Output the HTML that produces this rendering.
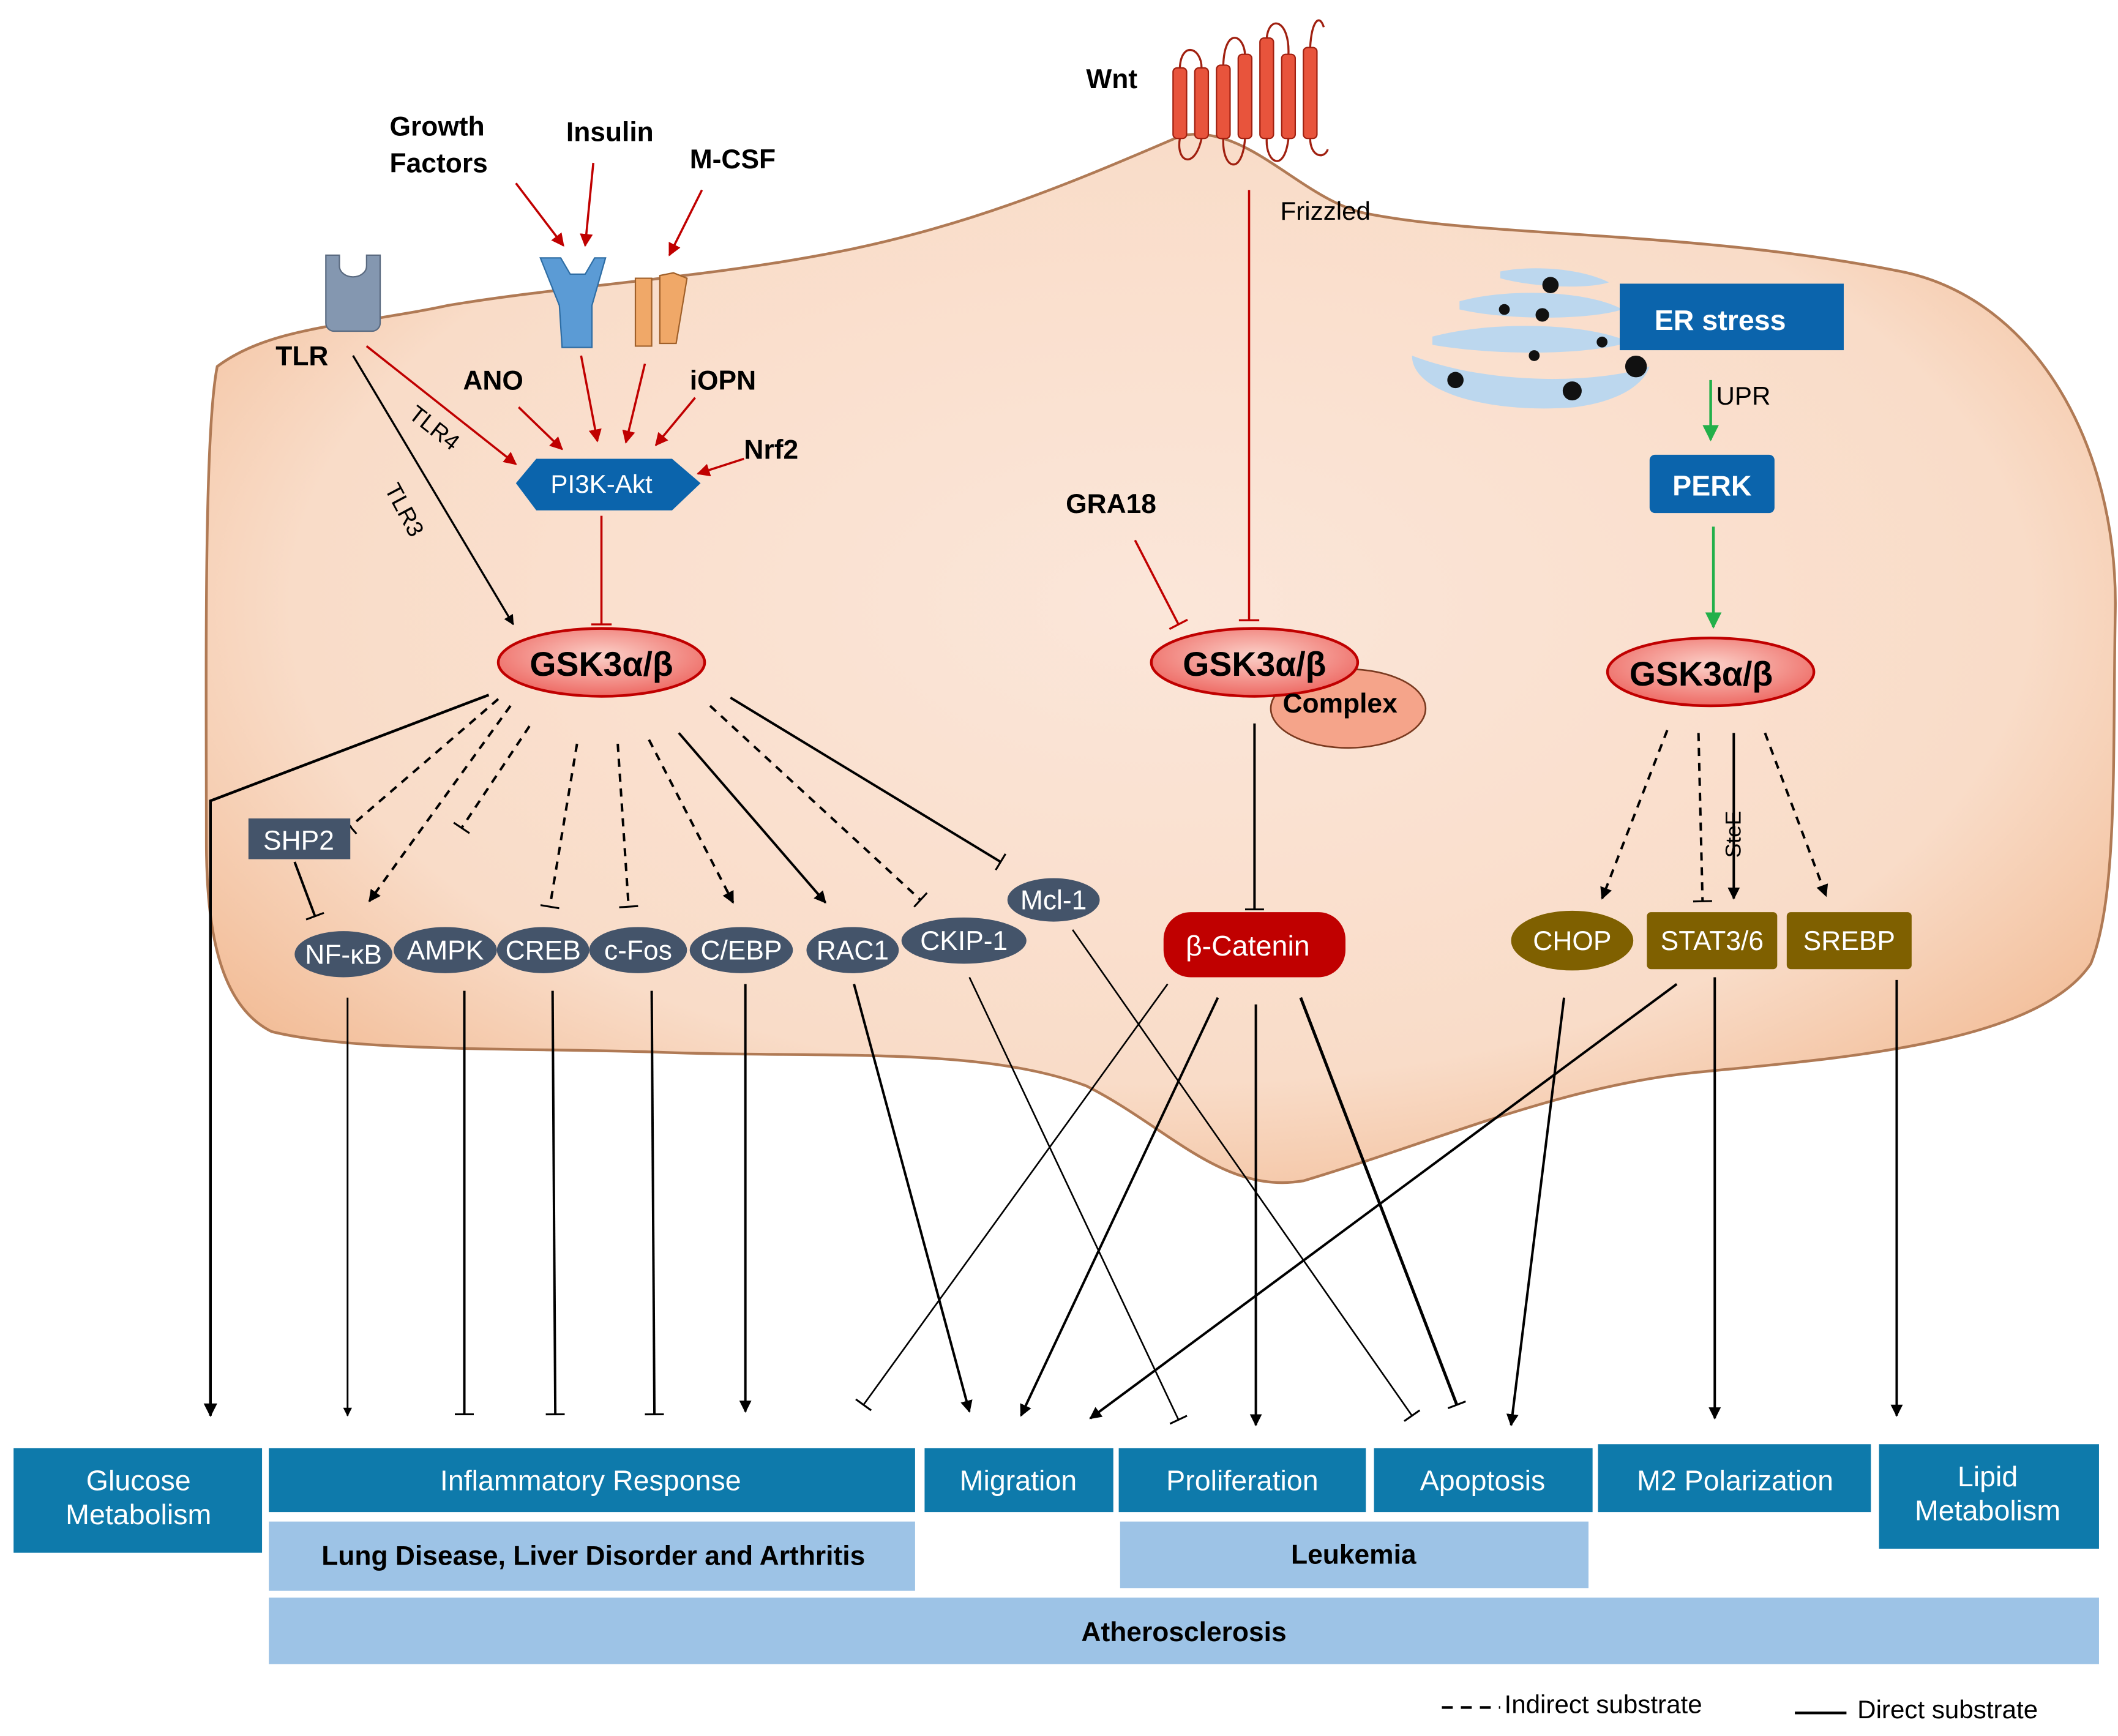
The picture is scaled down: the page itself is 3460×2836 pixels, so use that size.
<!DOCTYPE html>
<html><head><meta charset="utf-8"><style>
html,body{margin:0;padding:0;background:#fff;}
svg{display:block;}
text{font-family:"Liberation Sans",Arial,sans-serif;}
</style></head><body>
<svg width="3460" height="2836" viewBox="0 0 1560 1279" preserveAspectRatio="none" xmlns="http://www.w3.org/2000/svg">
<defs>
<radialGradient id="cell" cx="0.5" cy="0.45" r="0.65">
<stop offset="0" stop-color="#fbe6d9"/><stop offset="0.7" stop-color="#f9dcc8"/><stop offset="1" stop-color="#f1b890"/></radialGradient>
<radialGradient id="gsk" cx="0.5" cy="0.4" r="0.6"><stop offset="0" stop-color="#fbd0c8"/><stop offset="1" stop-color="#ee6a64"/></radialGradient>
<marker id="a" viewBox="0 0 10 10" refX="9" refY="5" markerWidth="5" markerHeight="5" orient="auto-start-reverse"><path d="M0,0L10,5L0,10z" fill="#000"/></marker>
<marker id="ar" viewBox="0 0 10 10" refX="9" refY="5" markerWidth="6" markerHeight="6" orient="auto"><path d="M0,0L10,5L0,10z" fill="#c00000"/></marker>
<marker id="ag" viewBox="0 0 10 10" refX="9" refY="5" markerWidth="6" markerHeight="6" orient="auto"><path d="M0,0L10,5L0,10z" fill="#22b04a"/></marker>
<marker id="t" viewBox="0 0 4 20" refX="2" refY="10" markerWidth="3" markerHeight="14" orient="auto" markerUnits="userSpaceOnUse"><path d="M2,0V20" stroke="#000" stroke-width="2"/></marker>
<marker id="tr" viewBox="0 0 4 20" refX="2" refY="10" markerWidth="3" markerHeight="16" orient="auto" markerUnits="userSpaceOnUse"><path d="M2,0V20" stroke="#c00000" stroke-width="2"/></marker>
</defs>
<rect width="1560" height="1279" fill="#fff"/>
<path d="M160,270 C200,240 260,240 330,225 C420,210 520,205 620,185 C720,165 800,130 870,100 C920,90 960,150 1010,158 C1100,175 1250,170 1400,200 C1500,220 1560,330 1558,450 C1556,560 1560,660 1540,710 C1500,770 1350,780 1250,790 C1150,800 1060,840 960,870 C900,880 860,830 800,800 C720,770 600,780 480,775 C380,772 260,775 200,760 C160,740 152,680 152,620 C152,500 150,320 160,270 Z" fill="url(#cell)" stroke="#b07a55" stroke-width="2"/>
<path d="M240,188 h10 v8 a10,8 0 0 0 20,0 v-8 h10 v50 a6,6 0 0 1 -6,6 h-28 a6,6 0 0 1 -6,-6z" fill="#8497b0" stroke="#5a6a80"/>
<path d="M398,190 L413,190 L420,202 L431,202 L438,190 L446,190 L436,225 L436,256 L414,256 L412,225 Z" fill="#5b9bd5" stroke="#2e6da4"/>
<path d="M468,205 h12 v50 h-12z M486,203 l10,-2 l10,4 l-8,48 l-12,0z" fill="#f0a868" stroke="#a0602a"/>
<g fill="#e8543c" stroke="#a02010" stroke-width="1">
<rect x="864" y="50" width="10" height="52" rx="3"/><rect x="880" y="50" width="10" height="52" rx="3"/><rect x="896" y="48" width="10" height="54" rx="3"/><rect x="912" y="40" width="10" height="62" rx="3"/><rect x="928" y="28" width="10" height="74" rx="3"/><rect x="944" y="40" width="10" height="62" rx="3"/><rect x="960" y="35" width="10" height="67" rx="3"/></g>
<path d="M869,50 C870,30 885,35 885,50 M901,48 C902,20 916,25 917,40 M933,28 C935,10 950,15 949,40 M965,35 C966,15 972,10 975,20 M869,102 C866,120 880,125 885,102 M901,102 C900,125 915,130 917,102 M933,102 C932,120 946,128 949,102 M965,102 C965,115 975,118 978,110" fill="none" stroke="#a02010" stroke-width="1.5"/>
<!-- ER cisternae -->
<g fill="#bcd7ee">
<path d="M1105,200 C1130,195 1165,198 1185,208 C1170,213 1130,212 1105,205z"/>
<path d="M1075,222 C1110,212 1170,214 1195,228 C1170,236 1110,236 1075,228z"/>
<path d="M1055,248 C1100,236 1170,238 1200,252 C1170,262 1100,262 1055,254z"/>
<path d="M1040,262 C1040,290 1100,305 1160,300 C1190,296 1210,285 1215,270 C1180,282 1100,285 1040,262z"/>
</g>
<g fill="#111"><circle cx="1142" cy="210" r="6"/><circle cx="1136" cy="232" r="5"/><circle cx="1108" cy="228" r="4"/><circle cx="1158" cy="288" r="7"/><circle cx="1205" cy="270" r="8"/><circle cx="1072" cy="280" r="6"/><circle cx="1180" cy="252" r="4"/><circle cx="1130" cy="262" r="4"/></g>
<rect x="1193" y="209" width="165" height="49" fill="#0b64ac"/>
<text x="1267" y="243" font-size="21" font-weight="bold" fill="#fff" text-anchor="middle">ER stress</text>
<rect x="1215" y="335" width="92" height="43" rx="4" fill="#0b64ac"/>
<text x="1261" y="365" font-size="21" font-weight="bold" fill="#fff" text-anchor="middle">PERK</text>
<g font-size="20" font-weight="bold" fill="#000">
<text x="287" y="100">Growth</text><text x="287" y="127">Factors</text>
<text x="417" y="104">Insulin</text><text x="508" y="124">M-CSF</text>
<text x="203" y="269">TLR</text><text x="341" y="287">ANO</text><text x="508" y="287">iOPN</text><text x="548" y="338">Nrf2</text>
<text x="800" y="65">Wnt</text><text x="785" y="378">GRA18</text></g>
<text x="943" y="162" font-size="19" fill="#000">Frizzled</text>
<text x="1264" y="298" font-size="19" fill="#000">UPR</text>
<text x="300" y="307" font-size="17" fill="#000" transform="rotate(38 300 307)">TLR4</text>
<text x="283" y="360" font-size="17" fill="#000" transform="rotate(62 283 360)">TLR3</text>
<text x="1282" y="632" font-size="16" fill="#000" transform="rotate(-90 1282 632)">SteE</text>
<path d="M380,356 L395,338 L495,338 L516,356 L495,376 L395,376 Z" fill="#0b64ac"/>
<text x="443" y="363" font-size="19" fill="#fff" text-anchor="middle">PI3K-Akt</text>
<g stroke="#c00000" stroke-width="1.6" fill="none" marker-end="url(#ar)">
<line x1="380" y1="135" x2="415" y2="181"/><line x1="437" y1="120" x2="431" y2="181"/><line x1="517" y1="140" x2="493" y2="188"/>
<line x1="270" y1="255" x2="380" y2="342"/><line x1="382" y1="300" x2="414" y2="331"/><line x1="428" y1="262" x2="440" y2="325"/><line x1="475" y1="268" x2="461" y2="326"/><line x1="512" y1="293" x2="483" y2="328"/><line x1="548" y1="338" x2="514" y2="349"/></g>
<g stroke="#c00000" stroke-width="1.6" fill="none" marker-end="url(#tr)">
<line x1="443" y1="380" x2="443" y2="460"/><line x1="920" y1="140" x2="920" y2="457"/><line x1="836" y1="398" x2="868" y2="460"/></g>
<g stroke="#22b04a" stroke-width="2" marker-end="url(#ag)"><line x1="1260" y1="280" x2="1260" y2="324"/><line x1="1262" y1="388" x2="1262" y2="462"/></g>
<line x1="260" y1="262" x2="378" y2="460" stroke="#000" stroke-width="1.5" marker-end="url(#a)"/>
<polyline points="360,512 155,590 155,1043" fill="none" stroke="#000" stroke-width="2" marker-end="url(#a)"/>
<g stroke="#000" stroke-width="1.8" fill="none">
<line x1="367" y1="515" x2="258" y2="609" stroke-dasharray="6,5" marker-end="url(#t)"/>
<line x1="376" y1="520" x2="272" y2="664" stroke-dasharray="6,5" marker-end="url(#a)"/>
<line x1="390" y1="535" x2="340" y2="610" stroke-dasharray="6,5" marker-end="url(#t)"/>
<line x1="425" y1="548" x2="405" y2="668" stroke-dasharray="6,5" marker-end="url(#t)"/>
<line x1="455" y1="548" x2="463" y2="668" stroke-dasharray="6,5" marker-end="url(#t)"/>
<line x1="478" y1="545" x2="540" y2="665" stroke-dasharray="6,5" marker-end="url(#a)"/>
<line x1="500" y1="540" x2="608" y2="665" marker-end="url(#a)"/>
<line x1="523" y1="520" x2="678" y2="663" stroke-dasharray="6,5" marker-end="url(#t)"/>
<line x1="538" y1="514" x2="737" y2="635" marker-end="url(#t)"/>
<line x1="217" y1="635" x2="232" y2="675" marker-end="url(#t)"/>
<line x1="256" y1="735" x2="256" y2="1043" stroke-width="1.3" marker-end="url(#a)"/>
<line x1="342" y1="730" x2="342" y2="1042" marker-end="url(#t)"/>
<line x1="407" y1="730" x2="409" y2="1042" marker-end="url(#t)"/>
<line x1="480" y1="730" x2="482" y2="1042" marker-end="url(#t)"/>
<line x1="549" y1="725" x2="549" y2="1040" marker-end="url(#a)"/>
<line x1="629" y1="725" x2="714" y2="1040" marker-end="url(#a)"/>
<line x1="714" y1="720" x2="868" y2="1046" stroke-width="1.2" marker-end="url(#t)"/>
<line x1="790" y1="685" x2="1040" y2="1043" stroke-width="1.2" marker-end="url(#t)"/>
<line x1="924" y1="533" x2="924" y2="670" marker-end="url(#t)"/>
<line x1="860" y1="725" x2="636" y2="1035" stroke-width="1.2" marker-end="url(#t)"/>
<line x1="897" y1="735" x2="752" y2="1043" marker-end="url(#a)"/>
<line x1="925" y1="740" x2="925" y2="1050" marker-end="url(#a)"/>
<line x1="958" y1="735" x2="1073" y2="1035" stroke-width="2.2" marker-end="url(#t)"/>
<line x1="1228" y1="538" x2="1180" y2="662" stroke-dasharray="6,5" marker-end="url(#a)"/>
<line x1="1251" y1="540" x2="1254" y2="664" stroke-dasharray="6,5" marker-end="url(#t)"/>
<line x1="1277" y1="540" x2="1277" y2="662" marker-end="url(#a)"/>
<line x1="1300" y1="540" x2="1345" y2="660" stroke-dasharray="6,5" marker-end="url(#a)"/>
<line x1="1152" y1="735" x2="1113" y2="1050" marker-end="url(#a)"/>
<line x1="1235" y1="725" x2="803" y2="1045" marker-end="url(#a)"/>
<line x1="1263" y1="720" x2="1263" y2="1045" marker-end="url(#a)"/>
<line x1="1397" y1="722" x2="1397" y2="1043" marker-end="url(#a)"/>
</g>
<ellipse cx="443" cy="488" rx="76" ry="25" fill="url(#gsk)" stroke="#c00000" stroke-width="2"/>
<text x="443" y="498" font-size="25" font-weight="bold" text-anchor="middle">GSK3α/β</text>
<ellipse cx="993" cy="522" rx="57" ry="29" fill="#f5a48a" stroke="#7a3a20" stroke-width="1.2"/>
<ellipse cx="924" cy="488" rx="76" ry="25" fill="url(#gsk)" stroke="#c00000" stroke-width="2"/>
<text x="924" y="498" font-size="25" font-weight="bold" text-anchor="middle">GSK3α/β</text>
<text x="987" y="525" font-size="20" font-weight="bold" text-anchor="middle">Complex</text>
<ellipse cx="1260" cy="495" rx="76" ry="25" fill="url(#gsk)" stroke="#c00000" stroke-width="2"/>
<text x="1253" y="505" font-size="25" font-weight="bold" text-anchor="middle">GSK3α/β</text>
<g fill="#44546a">
<rect x="183" y="603" width="75" height="30"/>
<ellipse cx="253" cy="703" rx="36" ry="17"/><ellipse cx="328" cy="700" rx="38" ry="17"/><ellipse cx="400" cy="700" rx="34" ry="17"/><ellipse cx="470" cy="700" rx="36" ry="17"/><ellipse cx="546" cy="700" rx="38" ry="17"/><ellipse cx="628" cy="700" rx="34" ry="17"/><ellipse cx="710" cy="693" rx="46" ry="17"/><ellipse cx="776" cy="663" rx="34" ry="16"/></g>
<g fill="#fff" font-size="20" text-anchor="middle">
<text x="220" y="626">SHP2</text><text x="253" y="710">NF-κB</text><text x="328" y="707">AMPK</text><text x="400" y="707">CREB</text><text x="470" y="707">c-Fos</text><text x="546" y="707">C/EBP</text><text x="628" y="707">RAC1</text><text x="710" y="700">CKIP-1</text><text x="776" y="670">Mcl-1</text></g>
<rect x="857" y="672" width="134" height="48" rx="20" fill="#c00000"/>
<text x="919" y="704" font-size="21" fill="#fff" text-anchor="middle">β-Catenin</text>
<ellipse cx="1158" cy="693" rx="45" ry="22" fill="#7f6000"/>
<rect x="1213" y="672" width="96" height="42" rx="3" fill="#7f6000"/>
<rect x="1316" y="672" width="92" height="42" rx="3" fill="#7f6000"/>
<g fill="#fff" font-size="20" text-anchor="middle"><text x="1158" y="700">CHOP</text><text x="1261" y="700">STAT3/6</text><text x="1362" y="700">SREBP</text></g>
<g fill="#0e7aab">
<rect x="10" y="1067" width="183" height="77"/><rect x="198" y="1067" width="476" height="47"/><rect x="681" y="1067" width="139" height="47"/><rect x="824" y="1067" width="182" height="47"/><rect x="1012" y="1067" width="161" height="47"/><rect x="1177" y="1064" width="201" height="50"/><rect x="1384" y="1064" width="162" height="77"/></g>
<g fill="#9dc3e6"><rect x="198" y="1121" width="476" height="51"/><rect x="825" y="1121" width="345" height="49"/><rect x="198" y="1177" width="1348" height="49"/></g>
<g fill="#fff" font-size="21" text-anchor="middle">
<text x="102" y="1098">Glucose</text><text x="102" y="1123">Metabolism</text><text x="435" y="1098">Inflammatory Response</text><text x="750" y="1098">Migration</text><text x="915" y="1098">Proliferation</text><text x="1092" y="1098">Apoptosis</text><text x="1278" y="1098">M2 Polarization</text><text x="1464" y="1095">Lipid</text><text x="1464" y="1120">Metabolism</text></g>
<g fill="#000" font-size="20" font-weight="bold" text-anchor="middle">
<text x="437" y="1153">Lung Disease, Liver Disorder and Arthritis</text><text x="997" y="1152">Leukemia</text><text x="872" y="1209">Atherosclerosis</text></g>
<line x1="1062" y1="1258" x2="1105" y2="1258" stroke="#000" stroke-width="2" stroke-dasharray="8,6"/>
<text x="1108" y="1262" font-size="19">Indirect substrate</text>
<line x1="1322" y1="1262" x2="1360" y2="1262" stroke="#000" stroke-width="2"/>
<text x="1368" y="1266" font-size="19">Direct substrate</text>
</svg>
</body></html>
